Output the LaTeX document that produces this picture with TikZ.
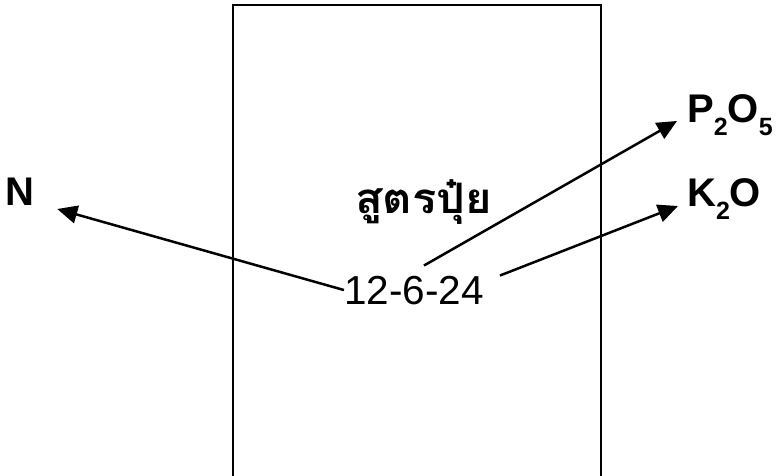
\documentclass[tikz,border=0pt]{standalone}
\usepackage{fontspec}
\setmainfont{Liberation Sans}
\newfontfamily\thaifont[Script=Thai,FakeStretch=1.08]{Loma}
\usetikzlibrary{arrows.meta,positioning}
\newcommand\chemsub[1]{\raisebox{-13pt}{\fontsize{25}{25}\selectfont #1}}

\begin{document}
\begin{tikzpicture}[x=1pt,y=-1pt,
  lbl/.style={font=\fontsize{40}{42}\selectfont\bfseries,inner sep=0pt},
  arr/.style={-{Triangle[length=20pt,width=18pt]},line width=2.5pt}]
 \useasboundingbox (0,0) rectangle (779,476);
 % the box, open at the bottom
 \draw[line width=2.5pt] (233,480)--(233,5)--(601,5)--(601,480);
 \node[anchor=base west,inner sep=0pt,
   font=\thaifont\fontsize{42}{46}\selectfont\bfseries] (title) at (355,213) {สูตรปุ๋ย};
 \node[anchor=base west,inner sep=0pt,
   font=\fontsize{40.5}{42}\selectfont] (code) at (344,304) {12-6-24};
 \node[lbl,anchor=base west] (n) at (5,205) {N};
 \node[lbl,anchor=base west] (p2o5) at (687,123) {P\chemsub{2}O\chemsub{5}};
 \node[lbl,anchor=base west] (k2o) at (687,206) {K\chemsub{2}O};
 \draw[arr] (code.west) -- ([xshift=23pt,yshift=-4pt]n.base east);
 \draw[arr] ([xshift=10pt,yshift=10pt]code.north) -- ([xshift=-10pt,yshift=2pt]p2o5.base west);
 \draw[arr] ([xshift=16pt]code.north east) -- ([xshift=-9pt]k2o.base west);
\end{tikzpicture}
\end{document}
